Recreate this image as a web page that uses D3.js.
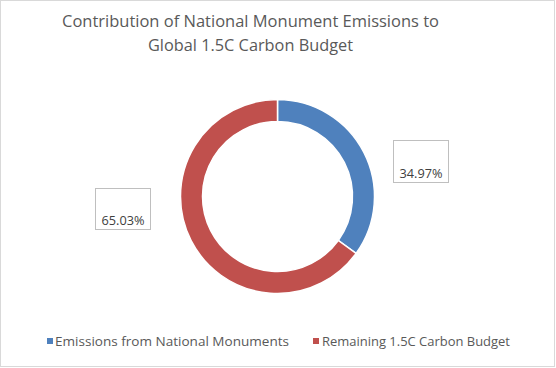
<!DOCTYPE html>
<html><head><meta charset="utf-8">
<script src="https://cdn.jsdelivr.net/npm/d3@7"></script>
<style>body{margin:0;background:#fff}svg{display:block}</style>
</head><body>
<svg id="c" width="556" height="368"></svg>
<script>
const titleLines = ["Contribution of National Monument Emissions to", "Global 1.5C Carbon Budget"];
const categories = ["Emissions from National Monuments", "Remaining 1.5C Carbon Budget"];
const values = [34.97, 65.03];
const labels = ["34.97%", "65.03%"];
const colors = ["#4F81BD", "#C0504D"];

const svg = d3.select("#c");
const FONT = "'Open Sans', 'Noto Sans', sans-serif";

svg.append("rect").attr("x",0.5).attr("y",0.5).attr("width",554).attr("height",366)
  .attr("fill","#fff").attr("stroke","#d9d9d9");

function fitText(sel, size, width){
  sel.style("font-size", size+"px").attr("textLength", width).attr("lengthAdjust","spacingAndGlyphs");
}

// Title
const tw = [377, 205], tb = [27, 51];
titleLines.forEach((t,i)=>{
  const s = svg.append("text").attr("x",250.5).attr("y",tb[i]).attr("text-anchor","middle")
    .attr("fill","#595959").style("font-family",FONT).text(t);
  fitText(s, 16.8, tw[i]);
});

// Donut
const cx = 277.5, cy = 196.5, R = 97, r = 75;
const pie = d3.pie().sort(null).value(d=>d)(values);
const arc = d3.arc().innerRadius(r).outerRadius(R);
const g = svg.append("g").attr("transform",`translate(${cx},${cy})`);
g.selectAll("path").data(pie).join("path").attr("d",arc)
  .attr("fill",(d,i)=>colors[i]).attr("stroke","#fff").attr("stroke-width",1.5);

// Data labels (boxes)
const boxes = [{x:393,y:140,w:55,h:42},{x:95,y:188,w:55,h:41}];
labels.forEach((t,i)=>{
  const b = boxes[i];
  svg.append("rect").attr("x",b.x+0.5).attr("y",b.y+0.5).attr("width",b.w).attr("height",b.h)
    .attr("fill","#fff").attr("stroke","#bfbfbf");
  const s = svg.append("text").attr("x",b.x+b.w/2+0.5).attr("y",b.y+b.h-4.5).attr("text-anchor","middle")
    .attr("fill","#404040").style("font-family",FONT).text(t);
  fitText(s, 13, 43);
});

// Legend
const leg = [{sx:47,tx:55,w:234},{sx:313,tx:322,w:188}];
categories.forEach((t,i)=>{
  const L = leg[i];
  svg.append("rect").attr("x",L.sx).attr("y",338).attr("width",6).attr("height",6).attr("fill",colors[i]);
  const s = svg.append("text").attr("x",L.tx).attr("y",346).attr("fill","#595959")
    .style("font-family",FONT).text(t);
  fitText(s, 12.2, L.w);
});
</script>
</body></html>
